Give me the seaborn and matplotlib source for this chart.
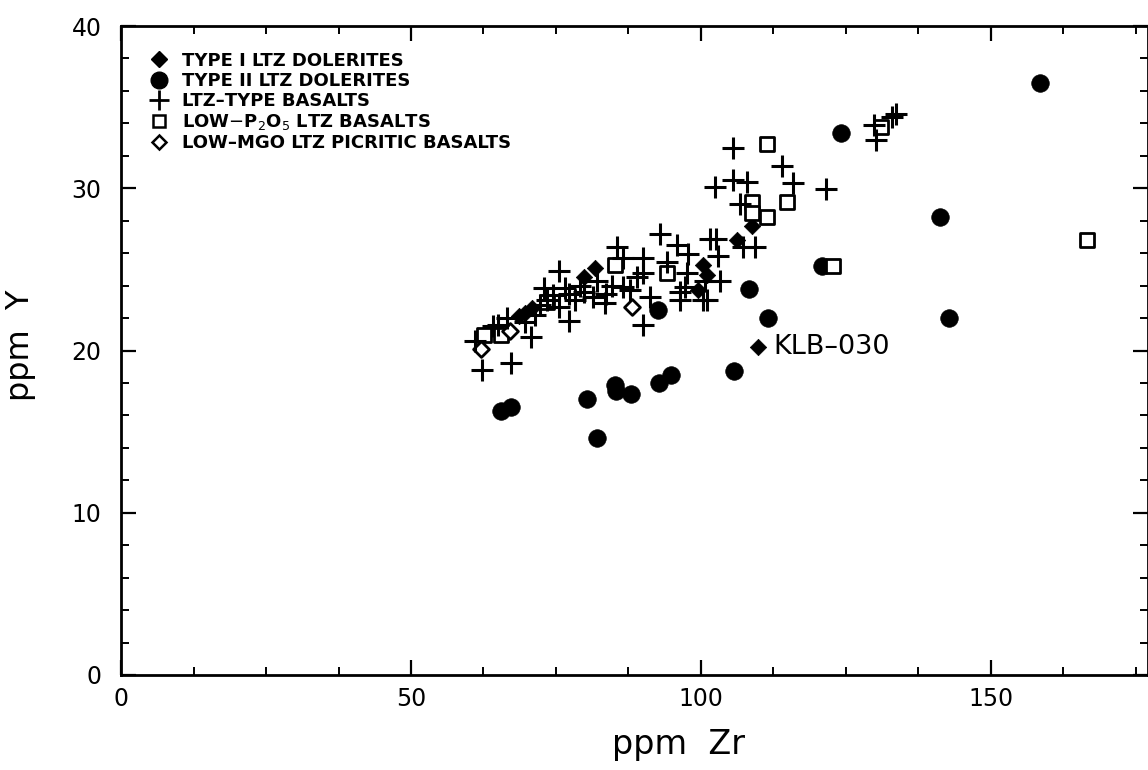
import numpy as np
import pandas as pd
import matplotlib
matplotlib.use("Agg")
import matplotlib.pyplot as plt
from matplotlib.lines import Line2D
from matplotlib.ticker import MultipleLocator
import seaborn as sns

# ---------------- data (ppm Zr, ppm Y) ----------------
type1_zr = [68.7, 69.7, 70.8, 79.9, 81.7, 99.5, 100.3, 101.0, 106.2, 108.8, 109.9]
type1_y = [22.1, 22.3, 22.6, 24.5, 25.1, 23.7, 25.3, 24.65, 26.8, 27.7, 20.2]

type2_zr = [65.6, 67.3, 80.4, 82.0, 85.1, 85.4, 88.0, 92.8, 94.8, 105.7, 92.6,
            108.2, 111.6, 120.8, 124.1, 141.2, 142.7, 158.5]
type2_y = [16.3, 16.5, 17.0, 14.6, 17.9, 17.5, 17.3, 18.0, 18.5, 18.75, 22.5,
           23.8, 22.0, 25.2, 33.4, 28.2, 22.0, 36.5]

basalt_zr = [61.1, 62.3, 64.1, 67.2, 70.7, 72.3, 73.4, 73.0, 75.6, 76.5, 75.6,
             77.3, 77.3, 79.1, 81.3, 82.0, 83.4, 83.6, 85.6, 86.5, 86.5, 88.9,
             90.0, 90.0, 90.0, 91.2, 92.9, 95.8, 97.8, 97.6, 96.4, 96.4, 100.3,
             101.6, 102.6, 102.9, 103.3, 102.4, 105.5, 105.5, 108.0, 106.7,
             107.3, 109.3, 114.0, 115.9, 121.6, 129.8, 130.1, 133.0, 133.6,
             74.4, 78.2, 79.9, 71.3, 69.6, 84.6, 87.7, 94.1, 100.7, 101.0,
             97.2, 66.5, 65.0]
basalt_y = [20.6, 18.8, 21.5, 19.2, 20.85, 22.8, 23.1, 23.85, 24.9, 23.85, 22.7,
            21.8, 23.5, 24.0, 23.3, 24.3, 22.9, 23.5, 26.4, 25.7, 23.9, 24.5,
            25.7, 24.8, 21.6, 23.3, 27.2, 26.5, 25.95, 24.8, 23.6, 23.1, 23.1,
            26.9, 26.9, 25.85, 24.3, 30.1, 32.5, 30.5, 30.4, 29.0,
            26.4, 26.4, 31.4, 30.3, 29.95, 33.9, 33.0, 34.4, 34.6,
            23.4, 23.1, 23.6, 22.2, 21.75, 24.0, 23.7, 25.45, 24.3, 23.1,
            23.9, 22.0, 21.6]

lowp_zr = [62.6, 65.5, 73.5, 85.1, 94.1, 108.8, 108.8, 111.4, 114.9, 111.4,
           122.7, 131.1, 166.6]
lowp_y = [20.95, 20.95, 23.0, 25.3, 24.8, 29.15, 28.5, 28.2, 29.15, 32.7,
          25.2, 33.8, 26.8]

picr_zr = [62.1, 67.1, 88.1]
picr_y = [20.1, 21.2, 22.7]

labels = ["TYPE I LTZ DOLERITES",
          "TYPE II LTZ DOLERITES",
          "LTZ\u2013TYPE BASALTS",
          r"LOW$-$P$_2$O$_5$ LTZ BASALTS",
          "LOW\u2013MGO LTZ PICRITIC BASALTS"]

annot_text = "KLB\u2013030"
annot_zr, annot_y = 109.9, 20.2

# ---------------- styling ----------------
sns.set_style("ticks")
plt.rcParams["font.family"] = ["DejaVu Sans"]
plt.rcParams["text.color"] = "black"
plt.rcParams["axes.labelcolor"] = "black"
plt.rcParams["xtick.color"] = "black"
plt.rcParams["ytick.color"] = "black"

fig = plt.figure(figsize=(11.48, 7.70), dpi=100)
ax = fig.add_axes([121 / 1148, 1 - 675 / 770, 1 - 121 / 1148, (675 - 26) / 770])

df2 = pd.DataFrame({"zr": type2_zr, "y": type2_y})
df1 = pd.DataFrame({"zr": type1_zr, "y": type1_y})
dfb = pd.DataFrame({"zr": basalt_zr, "y": basalt_y})
dfp = pd.DataFrame({"zr": lowp_zr, "y": lowp_y})
dfc = pd.DataFrame({"zr": picr_zr, "y": picr_y})

sns.scatterplot(data=df2, x="zr", y="y", marker="o", s=160, color="black",
                edgecolor="black", linewidth=0.5, ax=ax, legend=False, zorder=3)
sns.scatterplot(data=df1, x="zr", y="y", marker="D", s=70, color="black",
                edgecolor="black", linewidth=0.5, ax=ax, legend=False, zorder=3)
sns.scatterplot(data=dfp, x="zr", y="y", marker="s", s=105, facecolor="white",
                edgecolor="black", linewidth=2.0, ax=ax, legend=False, zorder=4)
sns.scatterplot(data=dfc, x="zr", y="y", marker="D", s=65, facecolor="white",
                edgecolor="black", linewidth=2.0, ax=ax, legend=False, zorder=4)
sns.scatterplot(data=dfb, x="zr", y="y", marker="+", s=230, color="black",
                linewidth=2.2, ax=ax, legend=False, zorder=5)

ax.text(annot_zr + 2.6, annot_y, annot_text, fontsize=19.5, va="center", ha="left",
        color="black")

ax.set_xlim(0, (1148 - 121) / 5.8)
ax.set_ylim(0, 40)
ax.xaxis.set_major_locator(MultipleLocator(50))
ax.xaxis.set_minor_locator(MultipleLocator(12.5))
ax.yaxis.set_major_locator(MultipleLocator(10))
ax.yaxis.set_minor_locator(MultipleLocator(2))

ax.tick_params(which="both", direction="in", top=True, right=True,
               color="black", labelcolor="black", labelsize=17)
ax.tick_params(which="major", length=11, width=1.6)
ax.tick_params(which="minor", length=6, width=1.4)
ax.tick_params(axis="x", which="major", pad=9)
ax.tick_params(axis="y", which="major", pad=14)
for sp in ax.spines.values():
    sp.set_linewidth(2.0)
    sp.set_color("black")

ax.set_xlabel("ppm  Zr", fontsize=24, color="black")
ax.set_ylabel("ppm  Y", fontsize=23, color="black")
ax.xaxis.set_label_coords(0.543, -0.082)
ax.yaxis.set_label_coords(-0.083, 0.508)

handles = [
    Line2D([], [], marker="D", linestyle="none", color="black", markersize=8),
    Line2D([], [], marker="o", linestyle="none", color="black", markersize=12),
    Line2D([], [], marker="+", linestyle="none", color="black", markersize=14,
           markeredgewidth=2.0),
    Line2D([], [], marker="s", linestyle="none", markerfacecolor="white",
           markeredgecolor="black", markersize=9, markeredgewidth=1.8),
    Line2D([], [], marker="D", linestyle="none", markerfacecolor="white",
           markeredgecolor="black", markersize=7, markeredgewidth=1.8),
]
leg = ax.legend(handles, labels, loc="upper left", bbox_to_anchor=(0.018, 0.977),
                frameon=False, handlelength=1.0, handletextpad=0.75,
                labelspacing=0.12, borderaxespad=0.2, labelcolor="black",
                prop={"size": 13, "weight": "bold"})

fig.savefig("out.png", dpi=100)
